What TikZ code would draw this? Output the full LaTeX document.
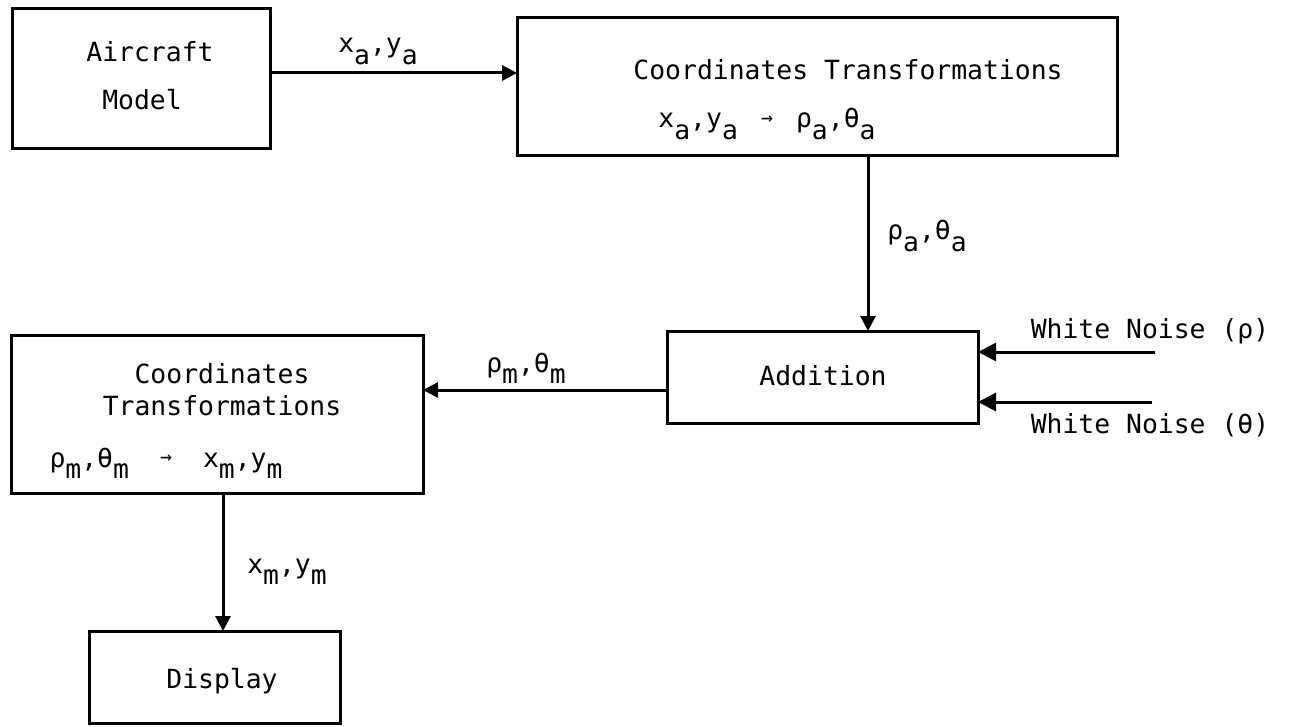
\documentclass[tikz,border=0pt]{standalone}
\usepackage{fontspec}
\usepackage{graphicx}
\setmainfont{DejaVu Sans Mono}
\usetikzlibrary{arrows.meta}
\newcommand\lo[1]{\raisebox{-0.45em}{#1}}
\newcommand\tto{\makebox[1em]{\raisebox{0.15em}{\scalebox{0.75}{→}}}}
\begin{document}
\begin{tikzpicture}[x=1pt,y=-1pt,
  box/.style={draw, line width=3pt, inner sep=0pt, outer sep=0pt},
  txt/.style={anchor=base, inner sep=0pt, font=\fontsize{26.4}{30}\selectfont},
  arr/.style={line width=3pt, -{Triangle[length=15pt,width=15pt]}},
  narr/.style={line width=3pt, -{Triangle[length=18pt,width=18pt]}}]
\useasboundingbox (0,0) rectangle (1290,727);
% boxes
\node[box, minimum width=258pt, minimum height=140pt] (am) at (141,79) {};
\node[box, minimum width=600pt, minimum height=138pt] (ct1) at (817,87) {};
\node[box, minimum width=311pt, minimum height=92pt] (add) at (822.5,377) {};
\node[box, minimum width=412pt, minimum height=158pt] (ct2) at (217,414) {};
\node[box, minimum width=251pt, minimum height=92pt] (disp) at (214.5,677) {};
% box texts
\node[txt] (t1) at (150,62) {Aircraft};
\node[txt] (t2) at (142,110) {Model};
\node[txt] (t3) at (848,80) {Coordinates Transformations};
\node[txt] (t4) at (767,128) {x\lo{a},y\lo{a} \tto{} ρ\lo{a},θ\lo{a}};
\node[txt] (t5) at (823,385) {Addition};
\node[txt] (t6) at (222,383) {Coordinates};
\node[txt] (t7) at (222,415) {Transformations};
\node[txt] (t8) at (166,467) {ρ\lo{m},θ\lo{m}\hspace{0.3em} \tto{}\hspace{0.3em} x\lo{m},y\lo{m}};
\node[txt] (t9) at (222,688) {Display};
% connector coordinates
\coordinate (ya) at (0,73);
\coordinate (xa) at (868,0);
\coordinate (yb) at (0,390);
\coordinate (xc) at (223,0);
\coordinate (n1) at (1155,352);
\coordinate (n2) at (1152,402);
% connectors
\draw[arr] (am.east |- ya) -- (ct1.west |- ya);
\draw[arr] (ct1.south -| xa) -- (add.north -| xa);
\draw[arr] (add.west |- yb) -- (ct2.east |- yb);
\draw[narr] (n1) -- (add.east |- n1);
\draw[narr] (n2) -- (add.east |- n2);
\draw[arr] (ct2.south -| xc) -- (disp.north -| xc);
% connector labels
\node[txt] (l1) at (378,53) {x\lo{a},y\lo{a}};
\node[txt] (l2) at (927,240) {ρ\lo{a},θ\lo{a}};
\node[txt] (l3) at (526,372) {ρ\lo{m},θ\lo{m}};
\node[txt] (l4) at (287,573) {x\lo{m},y\lo{m}};
\node[txt] (l5) at (1150,338) {White Noise (ρ)};
\node[txt] (l6) at (1150,433) {White Noise (θ)};
\end{tikzpicture}
\end{document}
